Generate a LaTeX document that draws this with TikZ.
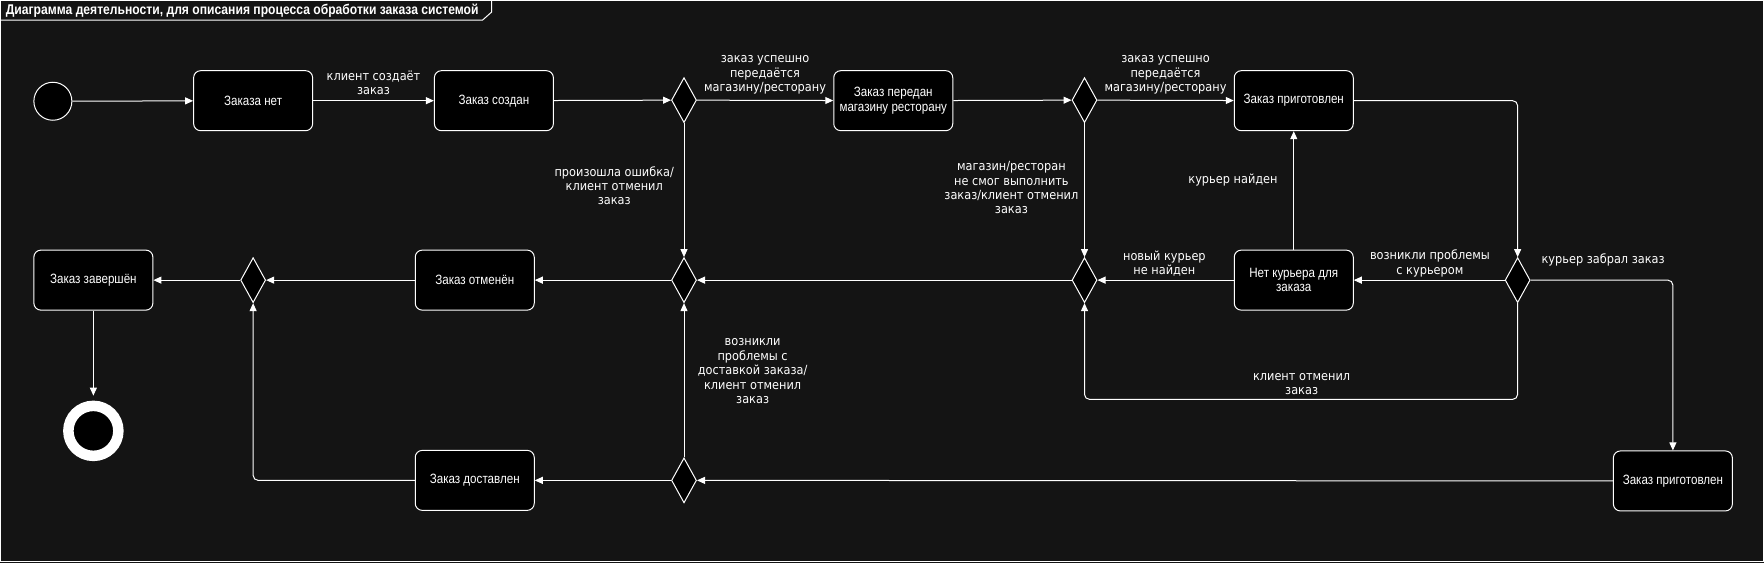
\documentclass[tikz,border=0pt]{standalone}
\usepackage{fontspec}
\setmainfont{Liberation Sans}
\newfontfamily\boxfont{Liberation Sans}[FakeStretch=0.86]
\newfontfamily\lblfont{DejaVu Sans}[FakeStretch=0.9]
\newfontfamily\ttlfont{Liberation Sans}[FakeStretch=0.86]
\usetikzlibrary{shapes.geometric,arrows.meta}
\definecolor{bg}{HTML}{141414}
\begin{document}
\begin{tikzpicture}[x=1.125pt,y=-1.125pt,
  state/.style={draw=white, fill=black, rounded corners=7pt, minimum width=119pt, minimum height=60pt,
    align=center, text=white, font=\boxfont\fontsize{13.5}{14.5}\selectfont, line width=1pt, inner sep=2pt},
  dec/.style={diamond, draw=white, fill=black, minimum width=25pt, minimum height=45pt, inner sep=0pt, line width=1pt},
  lbl/.style={text=white, align=center, inner sep=1pt, font=\lblfont\fontsize{12.6}{14.4}\selectfont},
  arr/.style={draw=white, line width=1pt, rounded corners=5pt, -{Triangle[length=8pt,width=7pt]}},
]
\fill[bg] (0,0) rectangle (1568,500);
\useasboundingbox (0,0) rectangle (1568,500);
\draw[white, line width=1pt] (0.5,0.5) rectangle (1567.5,499.5);
\node[anchor=west, text=white, inner sep=0pt, font=\ttlfont\bfseries\fontsize{14.1}{15}\selectfont] (title) at (5,9.5) {Диаграмма деятельности, для описания процесса обработки заказа системой};
\draw[white, line width=1pt] (0,17.8) -- (429,17.8) -- (437,10.7) -- (437,0);

% nodes
\node[circle, draw=white, fill=black, line width=1pt, minimum size=38pt, inner sep=0pt] (init) at (47,90) {};
\node[state] (s1) at (225,89.5) {Заказа нет};
\node[state] (s2) at (439,89.5) {Заказ создан};
\node[dec] (d1) at (608,89) {};
\node[state] (s3) at (794,89.5) {Заказ передан\\магазину ресторану};
\node[dec] (d2) at (964,89) {};
\node[state] (s4) at (1150,89.5) {Заказ приготовлен};
\node[dec] (d5) at (1349,249) {};
\node[state] (s5) at (1150,249) {Нет курьера для\\заказа};
\node[dec] (d4) at (964,249) {};
\node[dec] (d3) at (608,249) {};
\node[state] (s6) at (422,249) {Заказ отменён};
\node[dec] (d6) at (225,249) {};
\node[state] (s7) at (83,249) {Заказ завершён};
\node[circle, draw=white, fill=black, line width=10.5pt, minimum size=50pt, inner sep=0pt] (fin) at (83,383) {};
\node[state] (s8) at (422,427) {Заказ доставлен};
\node[dec] (d7) at (608,427) {};
\node[state] (s9) at (1487,427.5) {Заказ приготовлен};
\coordinate (lo) at (1157,355);

% connectors
\draw[arr] (init) -- (s1);
\draw[arr] (s1) -- (s2);
\draw[arr] (s2) -- (d1);
\draw[arr] (d1) -- (s3);
\draw[arr] (s3) -- (d2);
\draw[arr] (d2) -- (s4);
\draw[arr] (s4.east) -| (d5.north);
\draw[arr] (d5.west) -- (s5.east);
\draw[arr] (s5.north) -- (s4.south);
\draw[arr] (s5.west) -- (d4.east);
\draw[arr] (d2.south) -- (d4.north);
\draw[arr] (d4.west) -- (d3.east);
\draw[arr] (d1.south) -- (d3.north);
\draw[arr] (d3.west) -- (s6.east);
\draw[arr] (s6.west) -- (d6.east);
\draw[arr] (d6.west) -- (s7.east);
\draw[arr, shorten >=5pt] (s7.south) -- (fin.north);
\draw[arr] (d5.east) -| (s9.north);
\draw[arr] (d5.south) |- (lo) -| (d4.south);
\draw[arr] (s9.west) -- (d7.east);
\draw[arr] (d7.west) -- (s8.east);
\draw[arr] (d7.north) -- (d3.south);
\draw[arr] (s8.west) -| (d6.south);

% labels
\node[lbl] (l1) at (332,73.5) {клиент создаёт\\заказ};
\node[lbl] (l2) at (680,66.5) {заказ успешно\\передаётся\\магазину/ресторану};
\node[lbl] (l3) at (1036,66.5) {заказ успешно\\передаётся\\магазину/ресторану};
\node[lbl] (l4) at (546,165) {произошла ошибка/\\клиент отменил\\заказ};
\node[lbl] (l5) at (899,167) {магазин/ресторан\\не смог выполнить\\заказ/клиент отменил\\заказ};
\node[lbl] (l6) at (1096,160) {курьер найден};
\node[lbl] (l7) at (1035,234.5) {новый курьер\\не найден};
\node[lbl] (l8) at (1271,234) {возникли проблемы\\с курьером};
\node[lbl] (l9) at (1425,231) {курьер забрал заказ};
\node[lbl] (l10) at (1157,341.5) {клиент отменил\\заказ};
\node[lbl] (l11) at (669,330) {возникли\\проблемы с\\доставкой заказа/\\клиент отменил\\заказ};
\end{tikzpicture}
\end{document}
